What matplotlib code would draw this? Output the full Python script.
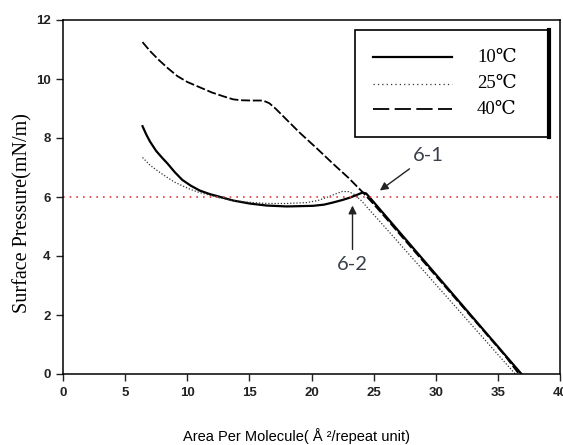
import matplotlib
matplotlib.use("Agg")
import matplotlib.pyplot as plt
from matplotlib.patches import Rectangle
from matplotlib.lines import Line2D

# isotherm data
x10 = [6.4, 6.7, 7.0, 7.5, 8.0, 8.4, 9.0, 9.6, 10.3, 11.0, 11.8, 12.5, 13.7, 15.0, 16.4,
       18.0, 20.1, 21.0, 21.7, 22.5, 23.1, 23.7, 24.1, 24.4, 25.0, 26.0, 28.0, 30.0, 32.0,
       34.0, 36.0, 36.9]
y10 = [8.4, 8.12, 7.88, 7.56, 7.32, 7.14, 6.84, 6.58, 6.38, 6.22, 6.1, 6.02, 5.88, 5.78,
       5.71, 5.68, 5.70, 5.74, 5.81, 5.90, 5.98, 6.08, 6.15, 6.12, 5.83, 5.34, 4.36, 3.38,
       2.40, 1.42, 0.44, 0.0]

x25 = [6.4, 7.0, 7.7, 8.4, 9.0, 9.6, 10.3, 11.0, 11.8, 12.5, 13.7, 15.0, 16.4, 18.0, 19.6,
       20.5, 21.2, 21.9, 22.5, 23.0, 23.4, 24.0, 24.5, 25.5, 27.0, 29.0, 31.0, 33.0, 35.0,
       36.4]
y25 = [7.34, 7.08, 6.86, 6.66, 6.5, 6.38, 6.25, 6.15, 6.06, 5.98, 5.88, 5.82, 5.78, 5.78,
       5.81, 5.88, 5.98, 6.10, 6.19, 6.18, 6.10, 5.88, 5.64, 5.17, 4.46, 3.51, 2.56, 1.61,
       0.66, 0.0]

x40 = [6.4, 7.0, 7.7, 8.4, 9.2, 10.0, 11.0, 12.0, 13.0, 13.7, 14.3, 15.2, 16.1, 16.6,
       17.1, 18.0, 19.1, 20.5, 21.7, 23.0, 24.1, 25.0, 26.0, 28.0, 30.0, 32.0, 34.0, 35.5,
       36.7]
y40 = [11.25, 10.95, 10.65, 10.38, 10.1, 9.9, 9.72, 9.54, 9.4, 9.31, 9.28, 9.27, 9.27,
       9.18, 9.0, 8.62, 8.16, 7.62, 7.14, 6.64, 6.17, 5.76, 5.28, 4.30, 3.33, 2.36, 1.39,
       0.66, 0.0]

labels = ["10\u2103", "25\u2103", "40\u2103"]
ref_level = 6
xticks = [0, 5, 10, 15, 20, 25, 30, 35, 40]
yticks = [0, 2, 4, 6, 8, 10, 12]

fig = plt.figure(figsize=(5.63, 4.45), dpi=100)
ax = fig.add_axes([63 / 563, 71 / 445, 497 / 563, 354 / 445])

styles = [
    dict(color="black", lw=1.6, linestyle="-"),
    dict(color="#333333", lw=0.9, linestyle=(0, (1, 1.5))),
    dict(color="black", lw=1.3, linestyle=(0, (5, 1.5))),
]
ax.plot(x10, y10, **styles[0])
ax.plot(x25, y25, **styles[1])
ax.plot(x40, y40, **styles[2])

ax.axhline(ref_level, color="#e23a3a", lw=1.2, linestyle=(0, (1, 3)))

ax.set_xlim(0, 40)
ax.set_ylim(0, 12)
ax.set_xticks(xticks)
ax.set_yticks(yticks)
ax.tick_params(direction="out", length=5, width=1, labelsize=9.5, colors="#222222", pad=4)
for lab in ax.get_xticklabels() + ax.get_yticklabels():
    lab.set_fontfamily("Liberation Sans")
    lab.set_fontweight("bold")
for sp in ax.spines.values():
    sp.set_linewidth(1.1)

ax.set_ylabel("Surface Pressure(mN/m)", family="Liberation Serif", fontsize=14.5)
ax.yaxis.set_label_coords(-0.062, 0.455)
ax.set_xlabel("Area Per Molecule( \u00c5 \u00b2/repeat unit)", family="Liberation Sans",
              fontsize=10.5, va="center")
ax.xaxis.set_label_coords(0.47, -0.175)

ann_kw = dict(fontsize=14.5, color="#3a3f4a", family="Lato", ha="center", va="center",
              arrowprops=dict(arrowstyle="-|>", color="#222222", lw=1, mutation_scale=12,
                              shrinkA=3, shrinkB=0))
ax.annotate("6-1", xy=(25.5, 6.22), xytext=(29.4, 7.42), **ann_kw)
ax.annotate("6-2", xy=(23.3, 5.71), xytext=(23.3, 3.7), **ann_kw)

# legend box drawn by hand to get the heavy right edge
fig.patches.append(Rectangle((355 / 563, 1 - 137 / 445), 195 / 563, 107 / 445,
                             transform=fig.transFigure, fill=True, facecolor="white",
                             edgecolor="black", lw=1.2, zorder=5))
fig.lines.append(Line2D([549 / 563, 549 / 563], [1 - 137 / 445, 1 - 30 / 445],
                        transform=fig.transFigure, color="black", lw=3, zorder=6))
rows = [57, 84, 109]
leg_ls = ["-", (0, (1, 2.5)), (0, (9, 3))]
for row, lab, st, ls in zip(rows, labels, styles, leg_ls):
    yy = 1 - row / 445
    st2 = dict(st, linestyle=ls)
    fig.lines.append(Line2D([373 / 563, 452 / 563], [yy, yy], transform=fig.transFigure,
                            zorder=6, **st2))
    fig.text(477 / 563, yy, lab, family=["Liberation Serif", "DejaVu Serif", "Noto Sans CJK SC"],
             fontsize=13.5, va="center", ha="left", zorder=7)

fig.savefig("out.png", dpi=100)
